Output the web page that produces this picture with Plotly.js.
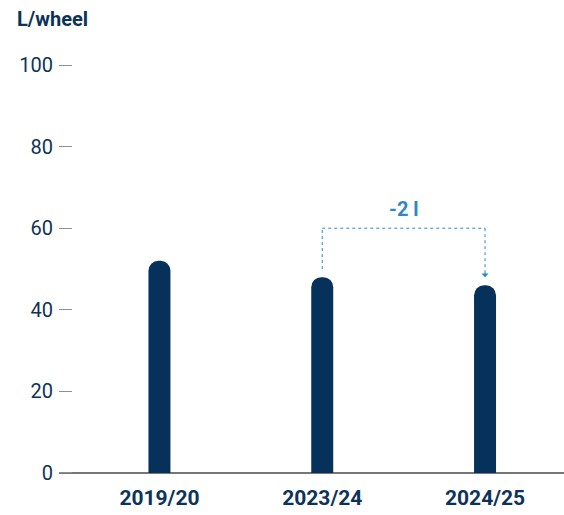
<!DOCTYPE html>
<html>
<head>
<meta charset="utf-8">
<script src="https://cdn.plot.ly/plotly-3.0.1.min.js"></script>
<style>
  body { margin: 0; background: #fff; }
  #plot { width: 564px; height: 515px; }
</style>
</head>
<body>
<div id="plot"></div>
<script>
var seasons = ["2019/20", "2023/24", "2024/25"];
var litres = [52, 48, 46];
var yTicks = [0, 20, 40, 60, 80, 100];

var navy = "#06315a";
var textNavy = "#0d3359";
var blue = "#2f86c8";

var bars = {
  type: "bar",
  x: seasons,
  y: litres,
  width: 0.135,
  marker: { color: navy, cornerradius: 11 },
  hoverinfo: "x+y"
};

// bracket between the last two seasons
var bracketTop = 60;
var from = 1, to = 2;
var shapes = [
  { type: "line", xref: "x", yref: "y", x0: from, x1: from, y0: litres[from] + 2, y1: bracketTop,
    line: { color: blue, width: 1, dash: "dot" } },
  { type: "line", xref: "x", yref: "y", x0: from, x1: to, y0: bracketTop, y1: bracketTop,
    line: { color: blue, width: 1, dash: "dot" } },
  { type: "line", xref: "x", yref: "y", x0: to, x1: to, y0: bracketTop, y1: litres[to] + 2.5,
    line: { color: blue, width: 1, dash: "dot" } }
];

var annotations = [
  { xref: "x", yref: "y", x: to, y: litres[to] + 2, ax: 0, ay: -6, axref: "pixel", ayref: "pixel",
    showarrow: true, arrowhead: 1, arrowsize: 1.2, arrowwidth: 1, arrowcolor: blue, text: "" },
  { xref: "x", yref: "y", x: (from + to) / 2, y: bracketTop, yshift: 19, showarrow: false,
    text: "<b>" + (litres[to] - litres[from]) + " l</b>",
    font: { family: "Roboto, sans-serif", size: 20, color: blue } }
];

var layout = {
  width: 564,
  height: 515,
  margin: { l: 59, r: 0, t: 63, b: 40 },
  paper_bgcolor: "#fff",
  plot_bgcolor: "#fff",
  showlegend: false,
  font: { family: "Roboto, sans-serif", color: textNavy },
  title: {
    text: "<b>L/wheel</b>",
    xref: "container", yref: "container",
    x: 17 / 564, xanchor: "left",
    y: 1 - 19 / 515, yanchor: "middle",
    font: { family: "Roboto, sans-serif", size: 20, color: textNavy }
  },
  xaxis: {
    type: "category",
    range: [-0.617, 2.485],
    showgrid: false,
    zeroline: false,
    showline: false,
    ticks: "",
    ticklabelstandoff: 8,
    tickfont: { family: "Roboto, sans-serif", size: 21, color: textNavy, weight: "bold" }
  },
  yaxis: {
    range: [-0.5, 100.5],
    tickvals: yTicks,
    showgrid: false,
    showline: false,
    zeroline: true,
    zerolinecolor: "#777",
    zerolinewidth: 1.5,
    ticks: "inside",
    ticklen: 13,
    tickwidth: 1,
    tickcolor: "#8a9099",
    ticklabelstandoff: 5,
    tickfont: { family: "Roboto, sans-serif", size: 20, color: textNavy }
  },
  shapes: shapes,
  annotations: annotations
};

Plotly.newPlot("plot", [bars], layout, { displayModeBar: false, staticPlot: true });
</script>
</body>
</html>
